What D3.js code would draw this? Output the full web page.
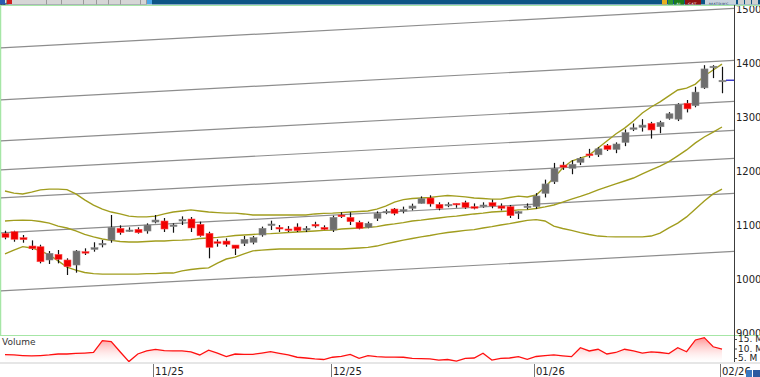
<!DOCTYPE html>
<html>
<head>
<meta charset="utf-8">
<script src="https://cdn.jsdelivr.net/npm/d3@7"></script>
<style>
  body { margin: 0; background: #fff; overflow: hidden; }
  svg { display: block; font-family: "DejaVu Sans", sans-serif; }
</style>
</head>
<body>
<svg width="760" height="377"></svg>
<script>
// daily candles, index 0 = first bar on the left, 81 = 02/26 bar
var opens = [10846,10876,10765,10611,10598,10352,10456,10352,10259,10506,
  10549,10642,10722,10939,10889,10920,10889,11055,11074,10987,
  11074,11111,11012,10846,10690,10703,10629,10660,10680,10815,
  11000,10957,10926,10963,10907,11012,10957,10907,11185,11142,
  11050,10957,11124,11235,11296,11272,11310,11400,11500,11383,
  11370,11400,11413,11340,11346,11413,11352,11340,11216,11330,
  11340,11587,11800,12110,12050,12160,12315,12300,12470,12400,
  12530,12780,12810,12880,12820,12975,12960,13255,13210,13540,
  13930,13665];
var highs = [10894,10894,10815,10715,10635,10518,10537,10383,10537,10568,
  10680,10722,11185,10994,10957,10957,11031,11185,11130,11031,
  11160,11148,11062,10876,10734,10753,10629,10796,10796,10970,
  11080,11000,10980,11031,10980,11060,10994,11173,11236,11236,
  11080,11062,11253,11290,11315,11340,11395,11530,11550,11420,
  11420,11400,11450,11400,11420,11470,11400,11370,11260,11400,
  11590,11840,12150,12170,12200,12260,12410,12440,12500,12530,
  12770,12880,12960,12910,12930,13090,13255,13315,13560,13960,
  13960,13930];
var lows = [10735,10690,10672,10537,10290,10278,10290,10074,10117,10444,
  10506,10586,10672,10820,10870,10840,10840,11031,10870,10857,
  11000,10870,10784,10383,10598,10598,10444,10611,10642,10784,
  10907,10870,10870,10870,10870,10950,10907,10870,11130,11000,
  10920,10940,11074,11200,11180,11216,11272,11395,11340,11272,
  11330,11320,11300,11290,11320,11310,11270,11130,11111,11290,
  11300,11510,11760,12020,11940,12110,12245,12260,12370,12330,
  12460,12740,12730,12600,12700,12950,12925,13085,13180,13520,
  13720,13440];
var closes = [10772,10735,10728,10561,10320,10475,10364,10228,10518,10487,
  10580,10660,10957,10857,10907,10857,11000,11092,10926,11000,
  11105,10945,10802,10586,10660,10642,10568,10734,10765,10939,
  11018,10926,10902,10895,10939,10981,10920,11142,11154,11062,
  10939,11031,11216,11253,11216,11284,11352,11488,11390,11310,
  11383,11376,11327,11310,11370,11352,11310,11173,11247,11350,
  11537,11760,12050,12070,12125,12235,12285,12410,12400,12500,
  12710,12800,12850,12760,12900,13060,13235,13150,13460,13890,
  13940,13680];
// volume in millions
var volumes = [6.8,6.6,6.3,6.1,6.3,6.6,7.1,7.1,7.4,7.6,
  7.9,14.1,13.6,8.3,3.1,7.1,8.7,9.5,8.9,8.7,
  8.7,8.2,6.6,9.1,7.6,5.7,7.1,6.9,6.9,7.6,
  8.3,7.4,6.6,5.4,5.0,4.5,4.2,5.4,5.8,6.9,
  4.8,6.2,5.7,5.5,5.5,5.4,4.8,4.7,4.5,3.9,
  4.2,3.4,4.8,5.0,7.5,3.9,4.8,5.0,5.7,4.3,
  5.8,6.2,6.6,6.1,5.7,10.4,8.7,9.6,7.1,7.9,
  9.6,8.7,7.6,8.2,7.9,7.3,10.4,8.3,14.5,15.7,
  10.9,9.7];
// bollinger bands
var bbUpper = [11630,11590,11575,11610,11650,11665,11665,11655,11575,11465,
  11370,11295,11240,11205,11165,11150,11150,11165,11205,11240,
  11260,11280,11260,11240,11230,11220,11220,11205,11185,11185,
  11185,11185,11185,11185,11185,11205,11215,11220,11230,11240,
  11250,11260,11295,11350,11425,11470,11490,11500,11510,11530,
  11545,11535,11520,11500,11490,11480,11480,11510,11535,11520,
  11555,11705,11870,12055,12185,12240,12295,12425,12555,12685,
  12795,12925,13075,13185,13280,13390,13500,13535,13610,13760,
  13870,13980];
var bbMiddle = [11075,11085,11090,11085,11065,11035,10980,10945,10890,10825,
  10780,10740,10715,10695,10685,10685,10695,10705,10705,10715,
  10720,10730,10750,10760,10770,10785,10805,10815,10825,10835,
  10840,10850,10860,10870,10880,10890,10900,10905,10925,10935,
  10945,10955,10970,11000,11020,11045,11075,11090,11110,11130,
  11150,11165,11185,11205,11220,11240,11250,11260,11280,11285,
  11305,11335,11370,11425,11480,11530,11585,11650,11705,11760,
  11815,11870,11945,12020,12090,12175,12280,12390,12520,12630,
  12720,12815];
var bbLower = [10465,10535,10600,10575,10520,10445,10335,10220,10165,10120,
  10100,10090,10090,10090,10090,10090,10100,10100,10110,10110,
  10150,10175,10195,10205,10295,10370,10405,10465,10520,10535,
  10545,10555,10555,10555,10555,10555,10555,10555,10555,10565,
  10575,10585,10610,10650,10685,10720,10750,10780,10805,10835,
  10860,10880,10900,10915,10945,10970,11000,11025,11055,11085,
  11100,11075,10980,10935,10900,10860,10825,10795,10785,10780,
  10780,10780,10780,10795,10850,10945,11035,11150,11295,11445,
  11575,11665];
// parallel channel lines, price at left edge and right edge
var trendX = [-0.6, 82.4];
var trendStart = [14278, 13315, 12556, 12019, 11500, 10852, 9778];
var trendEnd   = [15011, 14048, 13289, 12752, 12233, 11585, 10511];
var priceTicks = [9000, 10000, 11000, 12000, 13000, 14000, 15000];
var volumeTicks = [5, 10, 15];
var volumeLabels = ["5. M", "10. M", "15. M"];
var monthIndex = [17, 37, 60, 81];
var monthLabels = ["11/25", "12/25", "01/26", "02/26"];

var svg = d3.select("svg");
var n = closes.length;

var x = d3.scaleLinear().domain([0, 81]).range([5, 722]);
var y = d3.scaleLinear().domain([9000, 15000]).range([333, 9]);
var yv = d3.scaleLinear().domain([5, 15]).range([358, 339]);

var defs = svg.append("defs");
defs.append("clipPath").attr("id", "main-clip")
  .append("rect").attr("x", 1).attr("y", 6).attr("width", 733).attr("height", 329);
defs.append("clipPath").attr("id", "vol-clip")
  .append("rect").attr("x", 0).attr("y", 336).attr("width", 734).attr("height", 26);
defs.append("clipPath").attr("id", "axis-clip")
  .append("rect").attr("x", 735).attr("y", 6).attr("width", 25).attr("height", 329);
defs.append("clipPath").attr("id", "bar-clip")
  .append("rect").attr("x", 0).attr("y", 0).attr("width", 760).attr("height", 4.5);
var grad = defs.append("linearGradient").attr("id", "volfill")
  .attr("gradientUnits", "userSpaceOnUse")
  .attr("x1", 0).attr("x2", 0).attr("y1", 336).attr("y2", 362);
grad.append("stop").attr("offset", 0).attr("stop-color", "#ff6f6f").attr("stop-opacity", 0.85);
grad.append("stop").attr("offset", 1).attr("stop-color", "#ffffff").attr("stop-opacity", 0.2);

// top toolbar (only its lower edge shows)
var bar = svg.append("g").attr("clip-path", "url(#bar-clip)");
bar.append("rect").attr("x", 0).attr("y", 0).attr("width", 760).attr("height", 5).attr("fill", "#0d5585");
bar.append("rect").attr("x", 0).attr("y", 0).attr("width", 152).attr("height", 5).attr("fill", "#e4e4e4");
var boxes = [[6, 40], [46, 15], [61, 22], [83, 13], [96, 12], [108, 12], [120, 20], [140, 6]];
boxes.forEach(function(b) {
  bar.append("rect").attr("x", b[0] + 0.5).attr("y", -2).attr("width", b[1]).attr("height", 6.5)
    .attr("fill", "#d6d6d6").attr("stroke", "#9a9a9a");
});
var barTexts = [["XU100", 15], ["GUN", 49], ["TL", 69], ["L15", 86], ["EHR", 98], ["EVD", 110], ["BYH TRP", 121]];
barTexts.forEach(function(t) {
  bar.append("text").attr("x", t[0]).attr("y", 6).attr("font-size", 4.5).attr("fill", "#333").text(t[1]);
});
bar.append("rect").attr("x", 0).attr("y", 0).attr("width", 5).attr("height", 5).attr("fill", "#2a5bb0");
bar.append("rect").attr("x", 7).attr("y", 0).attr("width", 5).attr("height", 4).attr("fill", "#d02020");
bar.append("rect").attr("x", 147).attr("y", 0).attr("width", 5).attr("height", 4).attr("fill", "#4aa8e8");
var rightBoxes = [[662, 5, "#e8b020"], [668, 5, "#2e9a2e"], [674, 10, "#1b7d1b"], [685, 16, "#8e1212"], [705, 31, "#c9d3dd"], [738, 6, "#d0d0d0"], [745, 6, "#d0d0d0"], [752, 6, "#d0d0d0"]];
rightBoxes.forEach(function(b) {
  bar.append("rect").attr("x", b[0]).attr("y", 0).attr("width", b[1]).attr("height", 5).attr("fill", b[2]);
});
bar.append("text").attr("x", 676).attr("y", 6).attr("font-size", 4.5).attr("fill", "#fff").text("AL");
bar.append("text").attr("x", 688).attr("y", 6).attr("font-size", 4.5).attr("fill", "#fff").text("SAT");
bar.append("text").attr("x", 709).attr("y", 6).attr("font-size", 4.5).attr("fill", "#2b3b6b").text("MATRIKS");

// panel borders
svg.append("line").attr("x1", 0).attr("x2", 760).attr("y1", 5.5).attr("y2", 5.5).attr("stroke", "#a6e6a6");
svg.append("line").attr("x1", 0).attr("x2", 760).attr("y1", 335.5).attr("y2", 335.5).attr("stroke", "#a6e6a6");
svg.append("line").attr("x1", 0.5).attr("x2", 0.5).attr("y1", 5).attr("y2", 336).attr("stroke", "#a6e6a6").attr("stroke-width", 1.5);

var main = svg.append("g").attr("clip-path", "url(#main-clip)");

// channel lines
var trendLine = d3.line().x(function(d) { return x(d[0]); }).y(function(d) { return y(d[1]); });
main.append("g").selectAll("path")
  .data(trendStart.map(function(s, i) { return [[trendX[0], s], [trendX[1], trendEnd[i]]]; }))
  .enter().append("path")
  .attr("d", trendLine)
  .attr("fill", "none")
  .attr("stroke", "#8d8d8d")
  .attr("stroke-width", 1.2);

// bollinger bands
var bandLine = d3.line().x(function(d, i) { return x(i); }).y(function(d) { return y(d); });
main.append("g").selectAll("path")
  .data([bbUpper, bbMiddle, bbLower])
  .enter().append("path")
  .attr("d", bandLine)
  .attr("fill", "none")
  .attr("stroke", "#a19d1e")
  .attr("stroke-width", 1.4);

// candles
var candles = d3.range(n).map(function(i) {
  return { i: i, o: opens[i], h: highs[i], l: lows[i], c: closes[i] };
});
var cg = main.append("g").selectAll("g").data(candles).enter().append("g");
cg.append("line")
  .attr("x1", function(d) { return Math.round(x(d.i)) + 0.5; })
  .attr("x2", function(d) { return Math.round(x(d.i)) + 0.5; })
  .attr("y1", function(d) { return y(d.h); })
  .attr("y2", function(d) { return y(d.l); })
  .attr("stroke", "#111")
  .attr("stroke-width", 1.2);
cg.append("rect")
  .attr("x", function(d) { return Math.round(x(d.i)) - 3; })
  .attr("width", 7)
  .attr("y", function(d) { return y(Math.max(d.o, d.c)); })
  .attr("height", function(d) { return Math.max(1.5, Math.abs(y(d.o) - y(d.c))); })
  .attr("fill", function(d) { return d.c < d.o ? "#f00000" : "#6e6e6e"; })
  .attr("stroke", function(d) { return d.c < d.o ? "#ff5050" : "#8a8a8a"; })
  .attr("stroke-width", 0.6);

// last price marker
var last = closes[n - 1];
svg.append("line")
  .attr("x1", Math.round(x(n - 1)) + 4).attr("x2", 734)
  .attr("y1", y(last)).attr("y2", y(last))
  .attr("stroke", "#3a3ac8").attr("stroke-width", 1.5);

// right price axis
svg.append("line").attr("x1", 734.5).attr("x2", 734.5).attr("y1", 5).attr("y2", 362).attr("stroke", "#3c3c3c");
svg.append("g")
  .attr("clip-path", "url(#axis-clip)")
  .append("g")
  .attr("transform", "translate(734,0)")
  .call(d3.axisRight(y).tickValues(priceTicks).tickSize(0).tickPadding(2).tickFormat(d3.format("d")))
  .call(function(g) { g.select(".domain").remove(); })
  .selectAll("text")
  .attr("font-family", "DejaVu Sans, sans-serif")
  .attr("font-size", 10)
  .attr("fill", "#222");

// volume pane
var vol = svg.append("g").attr("clip-path", "url(#vol-clip)");
vol.append("path")
  .datum(volumes)
  .attr("d", d3.area().x(function(d, i) { return x(i); }).y0(362).y1(function(d) { return yv(d); }))
  .attr("fill", "url(#volfill)");
vol.append("path")
  .datum(volumes)
  .attr("d", d3.line().x(function(d, i) { return x(i); }).y(function(d) { return yv(d); }))
  .attr("fill", "none")
  .attr("stroke", "#ff1010")
  .attr("stroke-width", 1.3);
svg.append("text").attr("x", 2).attr("y", 345).attr("font-size", 9).attr("fill", "#333").text("Volume");
svg.append("g")
  .attr("transform", "translate(734,0)")
  .call(d3.axisRight(yv).tickValues(volumeTicks).tickSize(3).tickPadding(1)
    .tickFormat(function(d, i) { return volumeLabels[i]; }))
  .call(function(g) { g.select(".domain").remove(); })
  .call(function(g) { g.selectAll("line").attr("stroke", "#444"); })
  .selectAll("text")
  .attr("font-family", "DejaVu Sans, sans-serif")
  .attr("font-size", 9)
  .attr("fill", "#222");

// date axis
svg.append("rect").attr("x", 0).attr("y", 362).attr("width", 760).attr("height", 2).attr("fill", "#e6e6e6");
var dg = svg.append("g").selectAll("g").data(monthIndex).enter().append("g");
dg.append("line")
  .attr("x1", function(d) { return Math.round(x(d)) - 1.5; })
  .attr("x2", function(d) { return Math.round(x(d)) - 1.5; })
  .attr("y1", 364).attr("y2", 377)
  .attr("stroke", "#777");
dg.append("text")
  .attr("x", function(d) { return Math.round(x(d)); })
  .attr("y", 375)
  .attr("font-size", 10)
  .attr("fill", "#222")
  .text(function(d, i) { return monthLabels[i]; });
svg.append("rect").attr("x", 746).attr("y", 370).attr("width", 6).attr("height", 7).attr("fill", "#3a78c0");
svg.append("rect").attr("x", 753).attr("y", 370).attr("width", 7).attr("height", 7).attr("fill", "#2c5aa0");
</script>
</body>
</html>
